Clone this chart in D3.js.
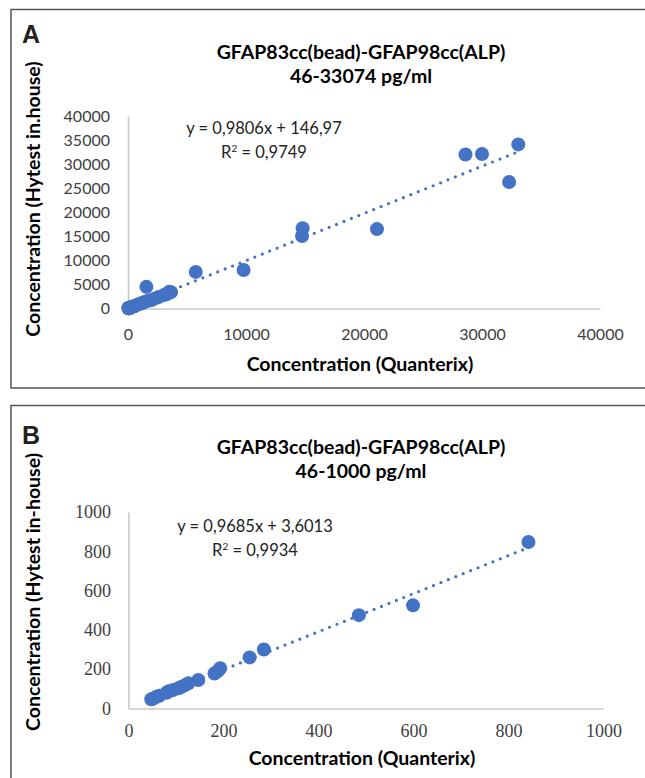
<!DOCTYPE html>
<html>
<head>
<meta charset="utf-8">
<script src="https://cdn.jsdelivr.net/npm/d3@7"></script>
<style>
  body { margin: 0; background: #fff; }
</style>
</head>
<body>
<div id="wrapper"></div>
<script>

/* 1. Data */

// panel B: 46-1000 pg/ml
const bQuanterix = [48, 52, 59, 65, 80, 85, 94, 105, 112, 120, 126, 147, 181, 188, 193, 255, 285, 485, 599, 842]
const bHytest    = [47, 50, 60, 65, 80, 88, 94, 103, 111, 120, 128, 145, 178, 190, 205, 260, 300, 475, 525, 847]

// panel A: full range, low points are the panel B ones plus these
const aExtraQuanterix = [1050, 1200, 1400, 1560, 1700, 2000, 2300, 2600, 3050, 3300, 3500, 3650, 5740, 9800, 14750, 14800, 21100, 28600, 30000, 32300, 33074]
const aExtraHytest    = [1000, 1150, 1350, 4500, 1600, 1750, 2100, 2400, 2800, 3000, 3500, 3400, 7600, 8000, 15050, 16700, 16500, 32000, 32100, 26300, 34100]

const aTicksX = [0, 10000, 20000, 30000, 40000]
const aTicksY = [0, 5000, 10000, 15000, 20000, 25000, 30000, 35000, 40000]
const bTicksX = [0, 200, 400, 600, 800, 1000]
const bTicksY = [0, 200, 400, 600, 800, 1000]

const aTitle = ["GFAP83cc(bead)-GFAP98cc(ALP)", "46-33074 pg/ml"]
const bTitle = ["GFAP83cc(bead)-GFAP98cc(ALP)", "46-1000 pg/ml"]

// trendline coefficients as printed on the chart
const aFit = { slope: 0.9806, intercept: 146.97, eq: "y = 0,9806x + 146,97", r2: "0,9749" }
const bFit = { slope: 0.9685, intercept: 3.6013, eq: "y = 0,9685x + 3,6013", r2: "0,9934" }

const blue = "#4472c4"
const sans = "Lato, 'Open Sans', sans-serif"

/* 2. Canvas */
const wrapper = d3.select("#wrapper")
    .append("svg")
    .attr("width", 645)
    .attr("height", 778)

/* 3. One panel */
function drawPanel(p) {
    const g = wrapper.append("g")

    // frame round the panel
    g.append("rect")
        .attr("x", p.frame.x)
        .attr("y", p.frame.y)
        .attr("width", p.frame.w)
        .attr("height", p.frame.h)
        .attr("fill", "none")
        .attr("stroke", "#555")
        .attr("stroke-width", 1.5)

    const xScale = d3.scaleLinear()
        .domain([0, d3.max(p.xTicks)])
        .range([p.plot.left, p.plot.right])

    const yScale = d3.scaleLinear()
        .domain([0, d3.max(p.yTicks)])
        .range([p.plot.bottom, p.plot.top])

    const xAxis = g.append("g")
        .attr("transform", `translate(0, ${p.plot.bottom})`)
        .call(d3.axisBottom(xScale)
            .tickValues(p.xTicks)
            .tickFormat(d3.format("d"))
            .tickSize(0)
            .tickPadding(p.xPad))

    const yAxis = g.append("g")
        .attr("transform", `translate(${p.plot.left}, 0)`)
        .call(d3.axisLeft(yScale)
            .tickValues(p.yTicks)
            .tickFormat(d3.format("d"))
            .tickSize(0)
            .tickPadding(p.yPad))

    g.selectAll(".domain")
        .attr("stroke", "#c8c8c8")
        .attr("stroke-width", 1.6)

    g.selectAll(".tick text")
        .attr("fill", "#404040")
        .style("font-family", p.tickFont)
        .style("font-size", p.tickSize + "px")

    // dotted linear trendline over the data range
    const xMin = d3.min(p.xs)
    const xMax = d3.max(p.xs)
    g.append("line")
        .attr("x1", xScale(xMin))
        .attr("y1", yScale(p.fit.slope * xMin + p.fit.intercept))
        .attr("x2", xScale(xMax))
        .attr("y2", yScale(p.fit.slope * xMax + p.fit.intercept))
        .attr("stroke", blue)
        .attr("stroke-width", 3.2)
        .attr("stroke-linecap", "round")
        .attr("stroke-dasharray", "0 8")

    g.selectAll("circle")
        .data(d3.range(p.xs.length))
        .enter().append("circle")
        .attr("cx", i => xScale(p.xs[i]))
        .attr("cy", i => yScale(p.ys[i]))
        .attr("r", 7)
        .attr("fill", blue)

    // panel letter
    g.append("text")
        .attr("x", 22)
        .attr("y", p.letterY)
        .style("font-family", "'Liberation Sans', Arial, sans-serif")
        .style("font-weight", "bold")
        .style("font-size", "25px")
        .attr("fill", "#222")
        .text(p.letter)

    // title, two lines
    g.selectAll(".title")
        .data(p.title)
        .enter().append("text")
        .attr("class", "title")
        .attr("x", 361)
        .attr("y", (d, i) => p.titleY + i * 24.5)
        .attr("text-anchor", "middle")
        .style("font-family", sans)
        .style("font-weight", "bold")
        .style("font-size", "19.5px")
        .text(d => d)

    // regression equation
    const eq = g.append("text")
        .attr("text-anchor", "middle")
        .style("font-family", sans)
        .style("font-size", "16.5px")
        .attr("fill", "#222")
    eq.append("tspan")
        .attr("x", p.eqX)
        .attr("y", p.eqY)
        .text(p.fit.eq)
    const r2 = eq.append("tspan")
        .attr("x", p.eqX)
        .attr("y", p.eqY + 23.5)
    r2.append("tspan").text("R")
    r2.append("tspan").attr("dy", -6).style("font-size", "10px").text("2")
    r2.append("tspan").attr("dy", 6).text(" = " + p.fit.r2)

    // axis titles
    g.append("text")
        .attr("x", (p.plot.left + p.plot.right) / 2 - 4)
        .attr("y", p.xLabelY)
        .attr("text-anchor", "middle")
        .style("font-family", sans)
        .style("font-weight", "bold")
        .style("font-size", "19.5px")
        .text("Concentration (Quanterix)")

    g.append("text")
        .attr("transform", `translate(40, ${p.yLabelY}) rotate(-90)`)
        .attr("text-anchor", "middle")
        .style("font-family", sans)
        .style("font-weight", "bold")
        .style("font-size", "19.5px")
        .text(p.yLabel)
}

/* 4. Draw both panels */
drawPanel({
    letter: "A",
    letterY: 43,
    frame: { x: 11, y: 9.5, w: 650, h: 378.5 },
    plot: { left: 128, right: 600, top: 116, bottom: 308.5 },
    xs: bQuanterix.concat(aExtraQuanterix),
    ys: bHytest.concat(aExtraHytest),
    xTicks: aTicksX,
    yTicks: aTicksY,
    xPad: 20,
    yPad: 18,
    tickFont: sans,
    tickSize: 16,
    title: aTitle,
    titleY: 58.5,
    fit: aFit,
    eqX: 264,
    eqY: 134,
    xLabelY: 371,
    yLabelY: 199,
    yLabel: "Concentration (Hytest in.house)",
})

drawPanel({
    letter: "B",
    letterY: 444,
    frame: { x: 11, y: 405.5, w: 650, h: 400 },
    plot: { left: 128.5, right: 603.5, top: 512, bottom: 708.5 },
    xs: bQuanterix,
    ys: bHytest,
    xTicks: bTicksX,
    yTicks: bTicksY,
    xPad: 16,
    yPad: 17.5,
    tickFont: "'Liberation Serif', 'Times New Roman', serif",
    tickSize: 18,
    title: bTitle,
    titleY: 453.5,
    fit: bFit,
    eqX: 255,
    eqY: 532,
    xLabelY: 765,
    yLabelY: 592,
    yLabel: "Concentration (Hytest in-house)",
})

</script>
</body>
</html>
